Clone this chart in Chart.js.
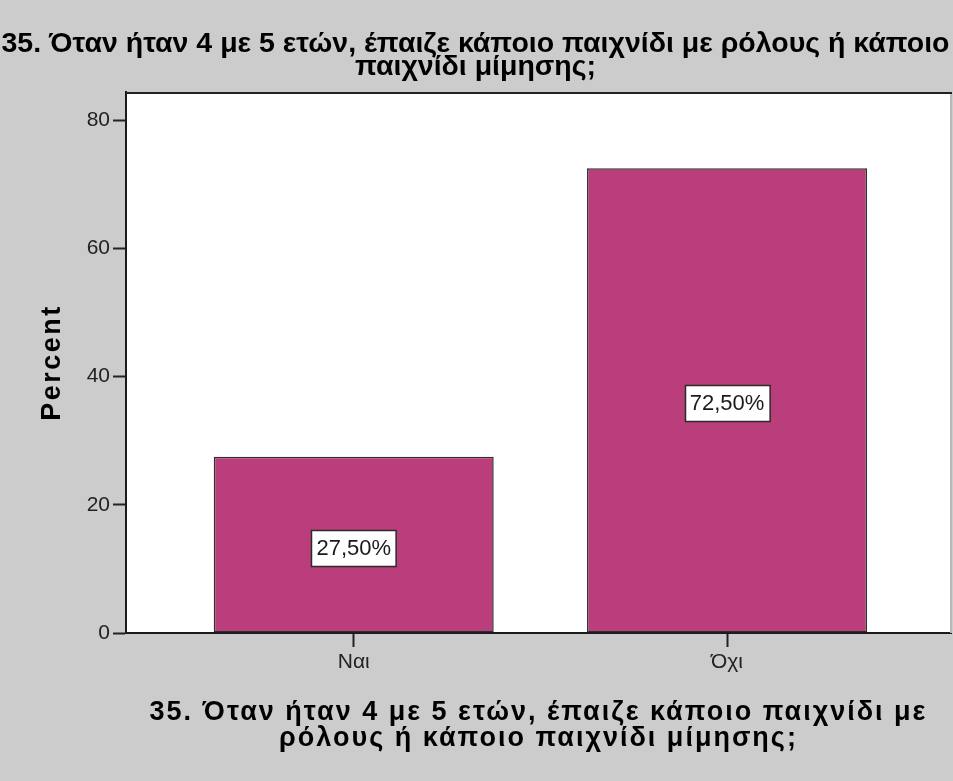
<!DOCTYPE html>
<html lang="el">
<head>
<meta charset="utf-8">
<title>Παιχνίδι με ρόλους ή μίμησης</title>
<script src="https://cdn.jsdelivr.net/npm/chart.js@4/dist/chart.umd.min.js"></script>
<style>
  html, body { margin: 0; padding: 0; background: #cccccc; }
  #wrap { width: 953px; height: 781px; }
</style>
</head>
<body>
<div id="wrap"><canvas id="chart" width="953" height="781"></canvas></div>
<script>
// Survey question and answers
const questionLines = ['35. Όταν ήταν 4 με 5 ετών, έπαιζε κάποιο παιχνίδι με ρόλους ή κάποιο', 'παιχνίδι μίμησης;'];
const axisTitleLines = ['35. Όταν ήταν 4 με 5 ετών, έπαιζε κάποιο παιχνίδι με', 'ρόλους ή κάποιο παιχνίδι μίμησης;'];
const categories = ['Ναι', 'Όχι'];
const percents = [27.5, 72.5];
const yTicks = [0, 20, 40, 60, 80];

const FONT = '"Liberation Sans", Arial, sans-serif';

// Gray page, white plot area with a frame on top and right
const panelPlugin = {
  id: 'panel',
  beforeDraw(chart) {
    const { ctx, chartArea: a } = chart;
    ctx.save();
    ctx.fillStyle = '#cccccc';
    ctx.fillRect(0, 0, chart.width, chart.height);
    ctx.fillStyle = '#ffffff';
    ctx.fillRect(a.left, a.top, a.right - a.left, a.bottom - a.top);
    ctx.restore();
  },
  afterDraw(chart) {
    const { ctx, chartArea: a } = chart;
    ctx.save();
    ctx.strokeStyle = '#b8b8b8';
    ctx.lineWidth = 2;
    ctx.beginPath();
    ctx.moveTo(a.right, a.top);
    ctx.lineTo(a.right, a.bottom);
    ctx.stroke();
    ctx.strokeStyle = '#222222';
    ctx.beginPath();
    ctx.moveTo(a.left, a.top + 1);
    ctx.lineTo(a.right + 1, a.top + 1);
    ctx.stroke();
    ctx.restore();
  }
};

// Spaced-out lettering for both axis titles
const spacedTitlePlugin = {
  id: 'spacedTitle',
  beforeDraw(chart) {
    [['y', '2.5px'], ['x', '2px']].forEach(([id, spacing]) => {
      const s = chart.scales[id];
      if (s && !s._spaced) {
        const orig = s.drawTitle;
        s.drawTitle = function (...args) {
          const ctx = this.ctx;
          ctx.save();
          ctx.letterSpacing = spacing;
          orig.apply(this, args);
          ctx.restore();
        };
        s._spaced = true;
      }
    });
  }
};

// Percentage boxes in the middle of each bar
const valueBoxPlugin = {
  id: 'valueBoxes',
  afterDatasetsDraw(chart) {
    const { ctx } = chart;
    const ds = chart.data.datasets[0];
    const meta = chart.getDatasetMeta(0);
    ctx.save();
    ctx.font = '22px ' + FONT;
    ctx.textAlign = 'center';
    ctx.textBaseline = 'middle';
    meta.data.forEach((bar, i) => {
      const v = ds.data[i].y;
      const text = v.toFixed(2).replace('.', ',') + '%';
      const w = ctx.measureText(text).width + 10;
      const h = 36;
      const cx = bar.x;
      const cy = (bar.y + bar.base) / 2 + 3;
      const x0 = Math.round(cx - w / 2) + 0.5;
      const y0 = Math.round(cy - h / 2) + 0.5;
      ctx.fillStyle = '#ffffff';
      ctx.fillRect(x0, y0, w, h);
      ctx.strokeStyle = '#2a2a2a';
      ctx.lineWidth = 1.5;
      ctx.strokeRect(x0, y0, w, h);
      ctx.fillStyle = '#1a1a1a';
      ctx.fillText(text, cx, cy + 1);
    });
    ctx.restore();
  }
};

new Chart(document.getElementById('chart'), {
  type: 'bar',
  data: {
    datasets: [{
      data: categories.map((c, i) => ({ x: i, y: percents[i] })),
      backgroundColor: '#ba3e7b',
      borderColor: '#2e2e2e',
      borderWidth: 1.5,
      borderSkipped: false,
      barPercentage: 0.75,
      categoryPercentage: 1.0
    }]
  },
  options: {
    responsive: false,
    animation: false,
    events: [],
    layout: { padding: { left: 0, right: 2, top: 0, bottom: 0 } },
    plugins: {
      legend: { display: false },
      tooltip: { enabled: false },
      title: {
        display: true,
        text: questionLines,
        color: '#000000',
        font: { family: FONT, size: 28.5, weight: 'bold', lineHeight: '23px' },
        padding: { top: 33, bottom: 13 }
      }
    },
    scales: {
      x: {
        type: 'linear',
        offset: false,
        min: -0.61,
        max: 1.6,
        afterBuildTicks(scale) {
          scale.ticks = categories.map((c, i) => ({ value: i }));
        },
        afterFit(scale) { scale.height = 148; },
        grid: {
          offset: false,
          drawOnChartArea: false,
          drawTicks: true,
          tickLength: 14,
          tickWidth: 2,
          tickColor: '#222222'
        },
        border: { display: true, color: '#1a1a1a', width: 2 },
        ticks: {
          color: '#222222',
          font: { family: FONT, size: 21 },
          padding: 3,
          maxRotation: 0,
          callback: (v) => categories[v]
        },
        title: {
          display: true,
          text: axisTitleLines,
          color: '#000000',
          font: { family: FONT, size: 27, weight: 'bold', lineHeight: '26px' },
          padding: { top: 0, bottom: 29 }
        }
      },
      y: {
        min: 0,
        max: 84.4,
        afterBuildTicks(scale) {
          scale.ticks = yTicks.map(v => ({ value: v }));
        },
        afterFit(scale) { scale.width = 126; },
        grid: {
          drawOnChartArea: false,
          drawTicks: true,
          tickLength: 13,
          tickWidth: 2,
          tickColor: '#222222'
        },
        border: { display: true, color: '#1a1a1a', width: 2 },
        ticks: {
          color: '#222222',
          font: { family: FONT, size: 21 },
          padding: 3
        },
        title: {
          display: true,
          text: 'Percent',
          color: '#000000',
          font: { family: FONT, size: 27, weight: 'bold', lineHeight: 1.2 },
          padding: { top: 36, bottom: 0 }
        }
      }
    }
  },
  plugins: [panelPlugin, spacedTitlePlugin, valueBoxPlugin]
});
</script>
</body>
</html>
